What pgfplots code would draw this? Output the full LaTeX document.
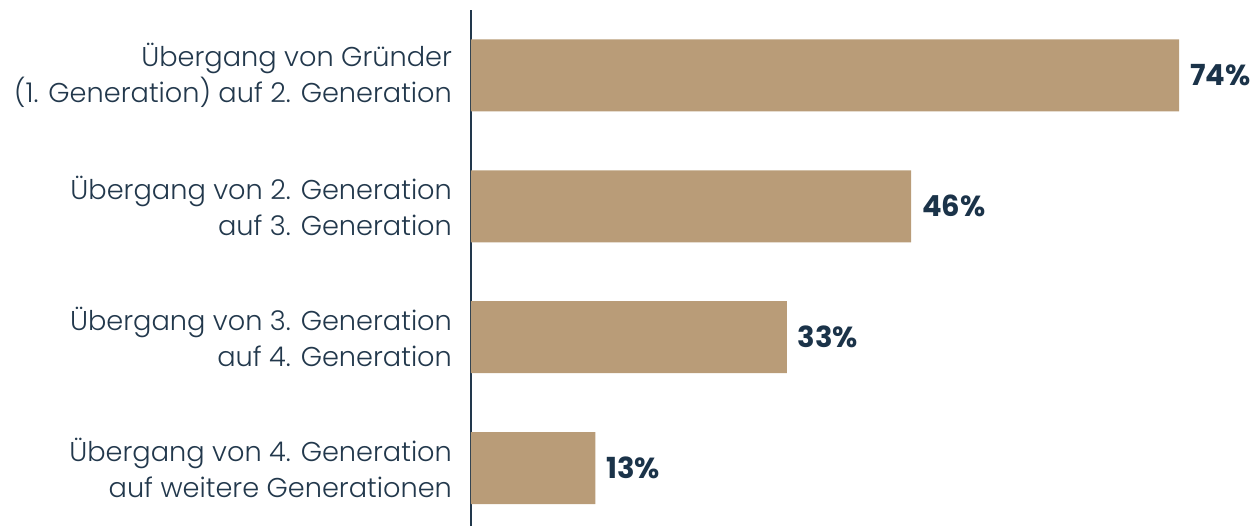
\documentclass[border=0pt]{standalone}
\usepackage{fontspec}
\setmainfont{Poppins}[UprightFont=* Light, BoldFont=* Bold]
\usepackage{pgfplots}
\pgfplotsset{compat=1.18}
\definecolor{barc}{HTML}{B99C78}
\definecolor{txt}{HTML}{22384C}
\definecolor{val}{HTML}{1B3349}
\begin{document}
\begin{tikzpicture}
\useasboundingbox (-235.5pt,0) rectangle (391pt,263pt);
\begin{axis}[
  at={(0,0)}, anchor=south west,
  scale only axis,
  width=382.8pt, height=258pt,
  xbar, bar width=0.55,
  xmin=0, xmax=80,
  ymin=-0.443, ymax=3.5,
  axis x line=none,
  axis y line*=left,
  y axis line style={color=txt, line width=1pt, -},
  ytick={0,1,2,3},
  yticklabels={{Übergang von 4. Generation\\auf weitere Generationen},
               {Übergang von 3. Generation\\auf 4. Generation},
               {Übergang von 2. Generation\\auf 3. Generation},
               {Übergang von Gründer\\(1. Generation) auf 2. Generation}},
  major tick length=0pt,
  yticklabel style={align=right, font=\fontsize{13.6}{18}\selectfont, text=txt, xshift=-6pt},
  /pgf/number format/assume math mode=true,
  nodes near coords={\pgfmathprintnumber{\pgfplotspointmeta}\%},
  nodes near coords style={font=\fontsize{14.5}{17}\selectfont\bfseries, text=val, anchor=west, xshift=2pt},
  point meta=x,
]
\addplot[fill=barc, draw=none] coordinates {(13,0) (33,1) (46,2) (74,3)};
\end{axis}
\end{tikzpicture}
\end{document}
